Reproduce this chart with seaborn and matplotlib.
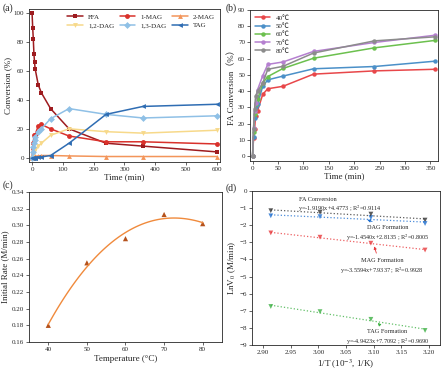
import numpy as np
import pandas as pd
import seaborn as sns
import matplotlib.pyplot as plt

sns.set_theme(style="ticks")
plt.rcParams['font.family'] = ['Liberation Serif', 'Noto Sans CJK SC']
plt.rcParams['mathtext.fontset'] = 'stix'

# (a) product distribution
time_a = [0, 2, 4, 6, 8, 10, 20, 30, 60, 120, 240, 360, 600]
ffa = [100, 90, 82, 72, 66, 61.5, 50.5, 45, 34, 20, 10, 8, 4]
mag1 = [0, 7, 10, 15.5, 16, 16, 22, 23, 20, 15, 11, 11, 9.5]
mag2 = [0, 0.3, 0.5, 0.7, 0.8, 1, 1.2, 1.5, 1.5, 1.2, 0.8, 0.8, 0.8]
dag12 = [0, 2, 3, 4, 5, 6, 8, 10, 15.5, 20, 18, 17, 19]
dag13 = [0, 4, 7.5, 10, 12, 14, 18, 20, 27, 34, 30, 27.5, 29]
tag = [0, 0, 0, 0, 0, 0, 0.3, 0.5, 1.5, 10, 30, 35.5, 37]
names_a = ["FFA", "1-MAG", "2-MAG", "1,2-DAG", "1,3-DAG", "TAG"]

# (b) FA conversion at different temperatures
time_b = [0, 2, 4, 6, 10, 20, 30, 60, 120, 240, 360]
fa40 = [0, 11, 16.5, 25, 28, 38, 41.5, 43, 50.5, 52.5, 53.5]
fa50 = [0, 12, 23.5, 30, 32, 43, 47, 49.3, 53.8, 55.2, 58.5]
fa60 = [0, 15, 26, 32, 35, 45, 49, 54, 60.3, 66.7, 71.3]
fa70 = [0, 17.5, 28, 33, 41, 49.5, 56.5, 58, 64.5, 70, 74.5]
fa80 = [0, 17, 29, 37, 40, 45, 53.5, 55.3, 63.5, 71, 73.5]
names_b = ["40℃", "50℃", "60℃", "70℃", "80℃"]

# (c) initial rate
temps = [40, 50, 60, 70, 80]
rates = [0.180, 0.255, 0.284, 0.313, 0.302]

# (d) Arrhenius
inv_t = [2.914, 3.003, 3.095, 3.193]
ln_fa = [-1.15, -1.25, -1.35, -1.7]
ln_dag = [-1.45, -1.5, -1.55, -1.9]
ln_mag = [-2.45, -2.7, -3.05, -3.45]
ln_tag = [-6.75, -7.05, -7.5, -8.15]

W, H = 446, 373
fig = plt.figure(figsize=(W / 100, H / 100), dpi=100)


def box(l, t, r, b):
    return fig.add_axes([l / W, (H - b) / H, (r - l) / W, (b - t) / H])


def style(ax):
    ax.tick_params(labelsize=5, length=2, width=0.5, pad=1.5)
    for s in ax.spines.values():
        s.set_linewidth(0.6)


# ---- (a)
ax = box(29, 9, 220, 162)
cols_a = ["#9e1b1f", "#d9312b", "#f3955a", "#f7d98a", "#8fc0e6", "#2f6db3"]
mk_a = ["s", "o", "^", "v", "D", "<"]
for y, n, c, m in zip([ffa, mag1, mag2, dag12, dag13, tag], names_a, cols_a, mk_a):
    sns.lineplot(x=time_a, y=y, ax=ax, color=c, marker=m, markersize=3.5,
                 markeredgewidth=0, linewidth=1.1, label=n)
ax.set_xlim(-10, 610)
ax.set_ylim(-3, 103)
ax.set_xticks(range(0, 601, 100))
ax.set_yticks(range(0, 101, 20))
ax.set_xlabel("Time (min)", fontsize=6.5, labelpad=1)
ax.set_ylabel("Conversion (%)", fontsize=6.5, labelpad=1)
h, l = ax.get_legend_handles_labels()
order = [0, 3, 1, 4, 2, 5]
ax.legend([h[i] for i in order], [l[i] for i in order], ncol=3, fontsize=5,
          frameon=False, loc="upper right", handlelength=2.2, columnspacing=0.8,
          borderaxespad=0.3, labelspacing=0.4)
style(ax)

# ---- (b)
ax = box(250, 10, 438, 161)
cols_b = ["#e8474a", "#4b90c8", "#6cc04e", "#b580d0", "#8c8c8c"]
for y, n, c in zip([fa40, fa50, fa60, fa70, fa80], names_b, cols_b):
    sns.lineplot(x=time_b, y=y, ax=ax, color=c, marker="o", markersize=3.2,
                 markeredgewidth=0, linewidth=1.1, label=n)
ax.set_xlim(-5, 365)
ax.set_ylim(-3, 90)
ax.set_xticks(range(0, 351, 50))
ax.set_yticks(range(0, 91, 10))
ax.set_xlabel("Time (min)", fontsize=6.5, labelpad=1)
ax.set_ylabel("FA Conversion（%）", fontsize=6.5, labelpad=1)
ax.legend(fontsize=5, frameon=False, loc="upper left", handlelength=2.2,
          borderaxespad=0.3, labelspacing=0.35)
style(ax)

# ---- (c)
ax = box(29, 192, 222, 342)
sns.regplot(x=temps, y=rates, order=3, ci=None, scatter=False, ax=ax,
            line_kws=dict(color="#f08a3c", linewidth=1))
sns.scatterplot(x=temps, y=rates, ax=ax, marker="^", color="#b5521c",
                s=14, edgecolor="none")
ax.set_xlim(35, 85)
ax.set_ylim(0.16, 0.34)
ax.set_xticks(temps)
ax.set_yticks(np.arange(0.16, 0.341, 0.02))
ax.set_yticklabels([f"{v:.2f}" for v in np.arange(0.16, 0.341, 0.02)])
ax.set_xlabel("Temperature (°C)", fontsize=6.5, labelpad=2)
ax.set_ylabel("Initial Rate (M/min)", fontsize=6.5, labelpad=2)
style(ax)

# ---- (d)
ax = box(252, 191, 440, 345)
cols_d = ["#333333", "#1f6fd0", "#e8383b", "#3cb043"]
for y, c in zip([ln_fa, ln_dag, ln_mag, ln_tag], cols_d):
    sns.regplot(x=inv_t, y=y, ci=None, ax=ax, marker="v",
                scatter_kws=dict(s=12, color=c, edgecolor="none"),
                line_kws=dict(color=c, linewidth=0.9, linestyle=":", alpha=0.8))
ax.set_xlim(2.88, 3.22)
ax.set_ylim(-9, 0)
ax.set_xticks(np.arange(2.90, 3.201, 0.05))
ax.set_xticklabels([f"{v:.2f}" for v in np.arange(2.90, 3.201, 0.05)])
ax.set_yticks(range(-9, 1))
ax.set_xlabel("1/T (10$^{-3}$, 1/K)", fontsize=6.5, labelpad=2)
ax.set_ylabel("LnV$_0$ (M/min)", fontsize=6.5, labelpad=1)
fs = 4.5
ax.text(3.0, -0.62, "FA Conversion", fontsize=fs, ha="center", va="bottom")
ax.text(3.04, -0.72, "y=-1.9190x+4.4773 ; R$^2$=0.9114", fontsize=fs,
        ha="center", va="top")
ax.annotate("", (3.005, -1.22), xytext=(3.015, -1.02),
            arrowprops=dict(arrowstyle="-", color="#555555", lw=0.5))
for lbl, eq, pt, xy, c in [
        ("DAG Formation", "y=-1.4540x+2.8135 ; R$^2$=0.8005", (3.085, -1.65), (3.125, -2.0), "#1f6fd0"),
        ("MAG Formation", "y=-3.5594x+7.9337 ; R$^2$=0.9928", (3.1, -3.12), (3.115, -3.9), "#e8383b"),
        ("TAG Formation", "y=-4.9423x+7.7092 ; R$^2$=0.9690", (3.105, -7.62), (3.125, -8.05), "#3cb043")]:
    ax.annotate(lbl + "\n" + eq, pt, xytext=xy, fontsize=fs, ha="center", va="top",
                linespacing=1.3,
                arrowprops=dict(arrowstyle="-|>", color=c, lw=0.6, mutation_scale=4,
                                relpos=(0.45, 1.0), shrinkA=1, shrinkB=1.5))
style(ax)

for t, x, y in [("(a)", 3, 3), ("(b)", 226, 3), ("(c)", 3, 180), ("(d)", 226, 183)]:
    fig.text(x / W, 1 - y / H, t, fontsize=7, va="top")

fig.savefig("out.png", dpi=100)
